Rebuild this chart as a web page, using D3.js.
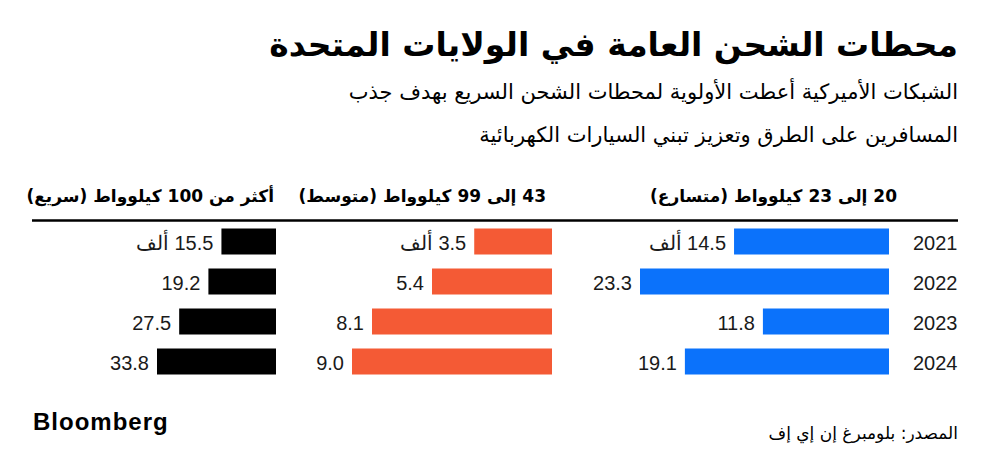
<!doctype html>
<html>
<head>
<meta charset="utf-8">
<script src="https://cdn.jsdelivr.net/npm/d3@7/dist/d3.min.js"></script>
<style>
  body { margin: 0; background: #fff; }
  svg { display: block; }
</style>
</head>
<body>
<script>
// data
const years = ['2021', '2022', '2023', '2024']
const level2 = [14.5, 23.3, 11.8, 19.1]   // 20-23 kW
const mid = [3.5, 5.4, 8.1, 9.0]          // 43-99 kW
const fast = [15.5, 19.2, 27.5, 33.8]     // 100+ kW
const headers = ['20 إلى 23 كيلوواط (متسارع)', '43 إلى 99 كيلوواط (متوسط)', 'أكثر من 100 كيلوواط (سريع)']
const unit = 'ألف'

const title = 'محطات الشحن العامة في الولايات المتحدة'
const subtitle = ['الشبكات الأميركية أعطت الأولوية لمحطات الشحن السريع بهدف جذب', 'المسافرين على الطرق وتعزيز تبني السيارات الكهربائية']
const source = 'المصدر: بلومبرغ إن إي إف'

const w = 993
const h = 471
const arFont = "'DejaVu Sans', sans-serif"
const numFont = "'Liberation Sans', Arial, sans-serif"

const svg = d3.select('body').append('svg')
    .attr('width', w)
    .attr('height', h)

// title + subtitle
svg.append('text')
    .attr('x', 958).attr('y', 56)
    .attr('direction', 'rtl').attr('text-anchor', 'start')
    .attr('font-family', arFont).attr('font-weight', 'bold')
    .attr('font-size', 33).attr('fill', '#000')
    .text(title)
subtitle.forEach((s, i) => {
    svg.append('text')
        .attr('x', 958).attr('y', 99 + i * 43)
        .attr('direction', 'rtl').attr('text-anchor', 'start')
        .attr('font-family', arFont)
        .attr('font-size', 21).attr('fill', '#000')
        .text(s)
})

// panels
const panels = [
    { data: level2, right: 889, width: 249, color: '#0b72fb', head: 897 },
    { data: mid, right: 552, width: 200, color: '#f45a35', head: 546 },
    { data: fast, right: 276, width: 119, color: '#000', head: 274 }
]

const y = d3.scaleBand()
    .domain(years)
    .range([228.5, 374.5])
    .paddingInner(0.35)
    .paddingOuter(0)

panels.forEach((p, pi) => {
    const x = d3.scaleLinear()
        .domain([0, d3.max(p.data)])
        .range([0, p.width])

    svg.append('text')
        .attr('x', p.head).attr('y', 202)
        .attr('direction', 'rtl').attr('text-anchor', 'start')
        .attr('font-family', arFont).attr('font-weight', 'bold')
        .attr('font-size', 17).attr('fill', '#000')
        .text(headers[pi])

    const g = svg.append('g')
    g.selectAll('rect')
        .data(p.data)
        .enter()
        .append('rect')
        .attr('x', d => p.right - x(d))
        .attr('y', (d, i) => y(years[i]))
        .attr('width', d => x(d))
        .attr('height', y.bandwidth())
        .attr('fill', p.color)

    g.selectAll('text')
        .data(p.data)
        .enter()
        .append('text')
        .attr('x', d => p.right - x(d) - 8)
        .attr('y', (d, i) => y(years[i]) + y.bandwidth() / 2 + 8)
        .attr('direction', 'rtl').attr('text-anchor', 'start')
        .attr('font-family', numFont)
        .attr('font-size', 20).attr('fill', '#1a1a1a')
        .text((d, i) => i == 0 ? d.toFixed(1) + ' ' + unit : d.toFixed(1))
})

// year labels
svg.selectAll('text.year')
    .data(years)
    .enter()
    .append('text')
    .attr('class', 'year')
    .attr('x', 913)
    .attr('y', d => y(d) + y.bandwidth() / 2 + 8)
    .attr('font-family', numFont)
    .attr('font-size', 20).attr('fill', '#1a1a1a')
    .text(d => d)

// rule under headers
svg.append('line')
    .attr('x1', 32).attr('x2', 958)
    .attr('y1', 220.5).attr('y2', 220.5)
    .attr('stroke', '#000').attr('stroke-width', 2.5)

// footer
svg.append('text')
    .attr('x', 33).attr('y', 430)
    .attr('font-family', numFont).attr('font-weight', 'bold')
    .attr('font-size', 24).attr('letter-spacing', 1).attr('fill', '#000')
    .text('Bloomberg')
svg.append('text')
    .attr('x', 958).attr('y', 439)
    .attr('direction', 'rtl').attr('text-anchor', 'start')
    .attr('font-family', arFont)
    .attr('font-size', 17).attr('fill', '#000')
    .text(source)
</script>
</body>
</html>
